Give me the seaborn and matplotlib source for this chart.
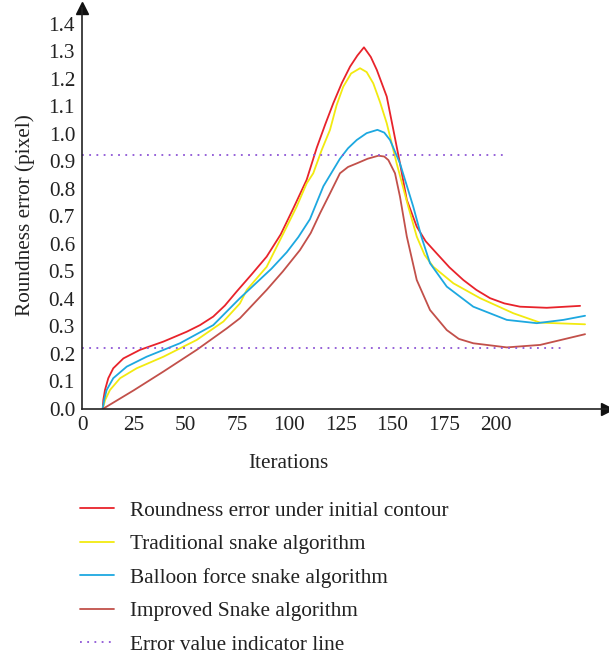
import matplotlib
matplotlib.use("Agg")
import matplotlib.pyplot as plt
import seaborn as sns
import pandas as pd

sns.set_theme(style="white")
plt.rcParams['font.family'] = ['Liberation Serif', 'DejaVu Serif']

# ---- data ----
red_x = [10.0, 10.3, 11.1, 12.7, 15.1, 20, 28, 39.3, 50.6, 57, 63.4, 69, 74.7, 82, 89.2, 96, 102.1, 108.5,
         113.4, 117.5, 121.4, 125.5, 129.5, 133, 136.2, 139.5, 142.4, 147.2, 150.4, 153.6, 156.9, 161.7,
         166, 171.3, 177.5, 184.2, 190.5, 197.1, 204, 211.6, 224.5, 240.6]
red_y = [0.0, 0.033, 0.069, 0.112, 0.148, 0.184, 0.215, 0.245, 0.281, 0.305, 0.336, 0.376, 0.427, 0.49,
         0.554, 0.635, 0.73, 0.833,
         0.95, 1.035, 1.112, 1.185, 1.245, 1.285, 1.315, 1.28, 1.233, 1.136, 1.015, 0.893, 0.76, 0.663,
         0.61, 0.566, 0.515, 0.469, 0.433, 0.403, 0.384, 0.372, 0.368, 0.375]

yel_x = [10.0, 11.2, 13.5, 18.4, 26.4, 39.3, 55.4, 68.3, 76.3, 79.6, 89.2, 98.9, 103.7, 108.5,
         111.7, 115.8, 119.8, 123, 126.2, 130, 134.3, 137.5, 140.7, 144, 147.2, 152, 157.6, 161.7,
         165.5, 169.7, 179.4, 192.3, 208.4, 221.3, 243]
yel_y = [0.0, 0.033, 0.069, 0.112, 0.148, 0.19, 0.251, 0.318, 0.384, 0.433, 0.517, 0.663, 0.736, 0.82,
         0.857, 0.942, 1.015, 1.105, 1.172, 1.22, 1.239, 1.225, 1.184, 1.115, 1.039, 0.893, 0.736, 0.627,
         0.56, 0.517, 0.457, 0.403, 0.348, 0.314, 0.308]

blu_x = [10.0, 10.7, 11.9, 15.1, 21.6, 31.2, 47.3, 63.4, 76.3, 84.4, 91.5, 98.9, 104.5, 110.1, 116.6,
         124.6, 128.5, 132.7, 137.5, 142.7, 146, 148.8, 153.6, 160, 164, 168.1, 176.2, 189, 205.2,
         219.7, 232.5, 243]
blu_y = [0.0, 0.033, 0.069, 0.112, 0.154, 0.19, 0.239, 0.305, 0.403, 0.46, 0.51, 0.57, 0.625, 0.69, 0.81,
         0.91, 0.948, 0.978, 1.003, 1.015, 1.005, 0.978, 0.893, 0.736, 0.625, 0.53, 0.445, 0.372, 0.324,
         0.312, 0.324, 0.339]

imp_x = [10.0, 25, 39.3, 55.4, 69.9, 76.3, 89.2, 97, 105.3, 110.5, 115, 119.8, 124.6, 128.5, 132.7, 138,
         143.2, 146, 148, 151.2, 153.6, 156.9, 161.7, 168.1, 176.2, 182, 189, 205.2, 221.3, 243]
imp_y = [0.0, 0.068, 0.136, 0.215, 0.293, 0.33, 0.433, 0.5, 0.578, 0.64, 0.712, 0.784, 0.857, 0.88, 0.893,
         0.91, 0.921, 0.918, 0.905, 0.857, 0.772, 0.627, 0.469, 0.36, 0.287, 0.255, 0.239, 0.224, 0.233,
         0.272]

ind_upper_x = [0, 204]
ind_upper_y = [0.925, 0.925]
ind_lower_x = [0, 232]
ind_lower_y = [0.222, 0.222]

labels = ["Roundness error under initial contour", "Traditional snake algorithm",
          "Balloon force snake algorithm", "Improved Snake algorithm",
          "Error value indicator line"]
colors = ["#E8232B", "#F2EA10", "#1DA8E0", "#C2504A", "#8E55D6"]

x_ticks = [0, 25, 50, 75, 100, 125, 150, 175, 200]
y_ticks = [0.0, 0.1, 0.2, 0.3, 0.4, 0.5, 0.6, 0.7, 0.8, 0.9, 1.0, 1.1, 1.2, 1.3, 1.4]

FS = 15.3

# ---- figure ----
W, H = 609, 656
fig = plt.figure(figsize=(W / 100, H / 100), dpi=100)
ax = fig.add_axes([82 / W, 1 - 409 / H, (607 - 82) / W, (409 - 8) / H])

series = [(red_x, red_y), (yel_x, yel_y), (blu_x, blu_y), (imp_x, imp_y)]
for (xs, ys), lab, col in zip(series, labels[:4], colors[:4]):
    df = pd.DataFrame({"x": xs, "y": ys})
    sns.lineplot(data=df, x="x", y="y", ax=ax, color=col, lw=1.3, sort=False,
                 label=lab, legend=False, solid_joinstyle='round')

for i, (xs, ys) in enumerate([(ind_upper_x, ind_upper_y), (ind_lower_x, ind_lower_y)]):
    df = pd.DataFrame({"x": xs, "y": ys})
    sns.lineplot(data=df, x="x", y="y", ax=ax, color=colors[4], lw=1.3, sort=False,
                 linestyle=(0, (1, 3)), label=labels[4] if i == 0 else None, legend=False)

ax.set_xlim(0, 253.6)
ax.set_ylim(0, 1.458)
ax.set_xticks(x_ticks)
ax.set_xticklabels([str(t) for t in x_ticks])
ax.set_yticks(y_ticks)
ax.set_yticklabels([f"{t:.1f}" for t in y_ticks])
ax.tick_params(direction='in', length=5, width=1, colors='#222222', labelsize=FS,
               pad=5, labelcolor='#222222')

for s in ['top', 'right']:
    ax.spines[s].set_visible(False)
for s in ['left', 'bottom']:
    ax.spines[s].set_color('#222222')
    ax.spines[s].set_linewidth(1.2)

ax.plot(1, 0, marker=">", color='#111111', ms=8, transform=ax.transAxes, clip_on=False)
ax.plot(0, 1, marker="^", color='#111111', ms=8, transform=ax.transAxes, clip_on=False)

ax.set_xlabel("Iterations", fontsize=FS, color='#222222')
ax.set_ylabel("Roundness error (pixel)", fontsize=FS, color='#222222')
ax.xaxis.set_label_coords(0.394, -0.112)
ax.yaxis.set_label_coords(-0.09, 0.484)

handles, labs = ax.get_legend_handles_labels()
fig.legend(handles, labs, loc='upper left', bbox_to_anchor=(80 / W, 1 - 501 / H),
           frameon=False, fontsize=FS, handlelength=1.6, handletextpad=0.75,
           labelspacing=0.64, borderpad=0, borderaxespad=0, labelcolor='#222222')

fig.savefig("out.png", dpi=100)
